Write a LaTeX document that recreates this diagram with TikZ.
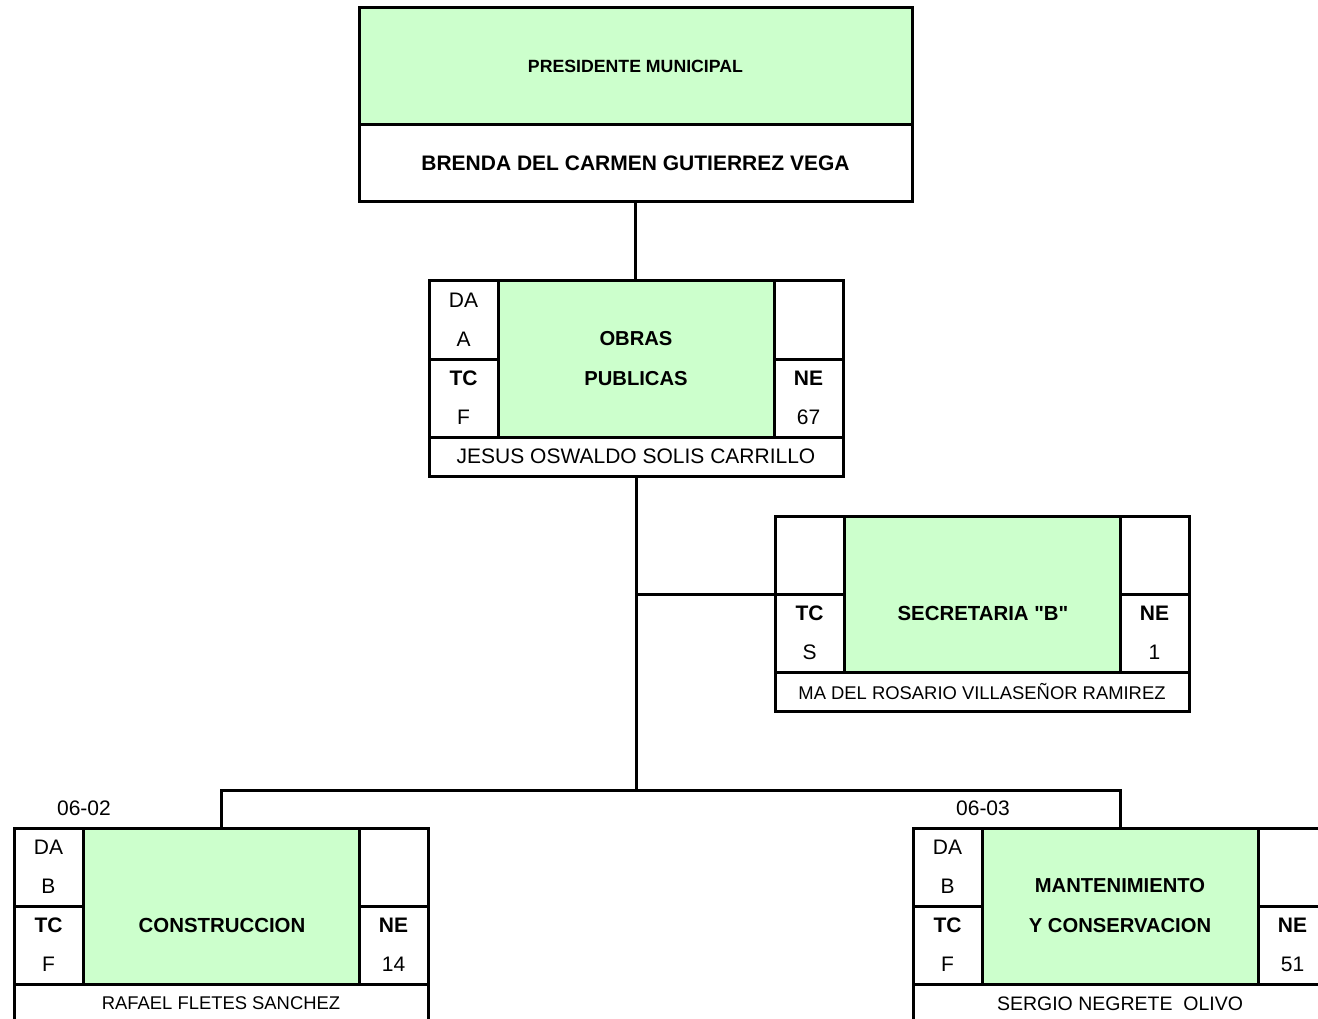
\documentclass[tikz,border=0pt]{standalone}
\usepackage{fontspec}
\setmainfont{Liberation Sans}[Ligatures=TeXOff]
\definecolor{verdeclaro}{RGB}{204,255,204}
\begin{document}
\begin{tikzpicture}[x=1pt,y=-1pt,
		linea/.style={line width=3pt},
		celda/.style={draw,linea,anchor=north west,inner sep=0pt,outer sep=0pt,align=center,minimum width=69pt,minimum height=78pt,font=\fontsize{21}{39}\selectfont},
		verde/.style={celda,fill=verdeclaro,minimum width=276pt,minimum height=156pt,font=\bfseries\fontsize{20.2}{40}\selectfont},
		nombre/.style={celda,minimum width=414pt,minimum height=39pt},
		chico/.style={font=\fontsize{18.4}{20}\selectfont},
		rotulo/.style={inner sep=0pt,font=\bfseries\fontsize{20.4}{24}\selectfont},
		codigo/.style={inner sep=0pt,font=\fontsize{21}{24}\selectfont}]
				\useasboundingbox (0,0) rectangle (1318,1019);
				\node[verde,minimum width=553pt,minimum height=117pt,font=\bfseries\fontsize{17.7}{20}\selectfont] (pres) at (359,8) {PRESIDENTE MUNICIPAL};
				\node[celda,minimum width=553pt,minimum height=77pt,font=\bfseries\fontsize{21}{24}\selectfont] (presNom) at (359,125) {BRENDA DEL CARMEN GUTIERREZ VEGA};
				\node[celda] (obrasDA) at (429,281) {DA\\A};
				\node[celda] (obrasTC) at (429,359) {\textbf{TC}\\F};
				\node[verde] (obras) at (498,281) {OBRAS\\PUBLICAS};
				\node[celda] (obrasV) at (774,281) {};
				\node[celda] (obrasNE) at (774,359) {\textbf{NE}\\67};
				\node[nombre] (obrasTit) at (429,437) {JESUS OSWALDO SOLIS CARRILLO};
				\node[celda] (secV) at (775,516) {};
				\node[celda] (secTC) at (775,594) {\textbf{TC}\\S};
				\node[verde] (sec) at (844,516) {};
				\node[rotulo] (secNom) at (983,613.5) {SECRETARIA "B"};
				\node[celda] (secV2) at (1120,516) {};
				\node[celda] (secNE) at (1120,594) {\textbf{NE}\\1};
				\node[nombre,chico] (secTit) at (775,672) {MA DEL ROSARIO VILLASEÑOR RAMIREZ};
				\node[celda] (consDA) at (14,828) {DA\\B};
				\node[celda] (consTC) at (14,906) {\textbf{TC}\\F};
				\node[verde] (cons) at (83,828) {};
				\node[rotulo] (consNom) at (222,925.5) {CONSTRUCCION};
				\node[celda] (consV) at (359,828) {};
				\node[celda] (consNE) at (359,906) {\textbf{NE}\\14};
				\node[nombre,chico] (consTit) at (14,984) {RAFAEL FLETES SANCHEZ};
				\node[celda] (mantDA) at (913,828) {DA\\B};
				\node[celda] (mantTC) at (913,906) {\textbf{TC}\\F};
				\node[verde] (mant) at (982,828) {MANTENIMIENTO\\Y CONSERVACION};
				\node[celda] (mantV) at (1258,828) {};
				\node[celda] (mantNE) at (1258,906) {\textbf{NE}\\51};
				\node[nombre,font=\fontsize{19.5}{22}\selectfont] (mantTit) at (913,984) {SERGIO NEGRETE\ \ OLIVO};
				\node[codigo] (codCons) at (84,808) {06-02};
				\node[codigo] (codMant) at (983,808) {06-03};
				\coordinate (bus) at (636,790);
				\draw[linea] (presNom.south) -- (presNom.south |- obras.north);
				\draw[linea] (obrasTit.south) -- (bus);
				\draw[linea] (obrasTit.south |- secTC.north west) -- (secTC.north west);
				\draw[linea] (cons.north) |- (bus) -| (mant.north);
			\end{tikzpicture}
\end{document}
